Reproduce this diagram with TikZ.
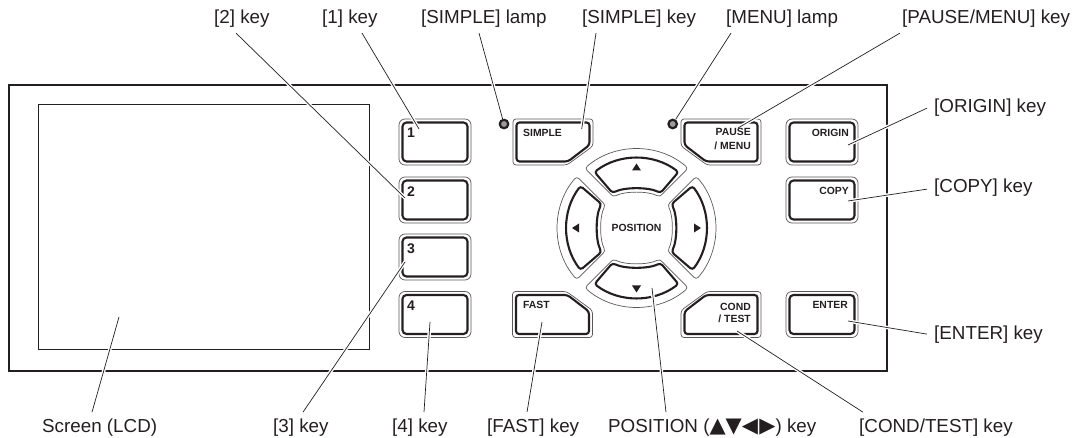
\documentclass[tikz,border=0pt]{standalone}
\usepackage{fontspec}
\setmainfont{Liberation Sans}
\newfontfamily\symfont{DejaVu Sans}
\usetikzlibrary{positioning, calc}
\definecolor{inkblack}{HTML}{231F20}
\tikzset{
  callout/.style = {font=\fontsize{18.8}{20}\selectfont, text=inkblack, inner sep=0pt, anchor=base west},
  keyhalo/.style = {rectangle, draw=inkblack!75, line width=0.7pt, rounded corners=6pt,
    minimum width=72pt, minimum height=46pt, inner sep=0pt},
  keyface/.style = {rectangle, draw=inkblack, line width=2.1pt, rounded corners=4pt,
    minimum width=65pt, minimum height=39pt, inner sep=0pt},
  keynum/.style  = {font=\fontsize{14}{14}\bfseries\selectfont, text=inkblack, inner sep=0pt},
  keytext/.style = {font=\fontsize{10.4}{14}\bfseries\selectfont, text=inkblack, inner sep=0pt, align=right},
  halo/.style    = {draw=inkblack!75, line width=0.7pt, rounded corners=3pt},
  face/.style    = {draw=inkblack, line width=2.1pt, rounded corners=3pt},
  leader/.style  = {draw=inkblack, line width=0.7pt, preaction={draw=white, line width=3.5pt}},
  lamp/.style    = {circle, draw=inkblack, fill=inkblack!45, line width=2.2pt, minimum size=8.5pt, inner sep=0pt},
}
\newcommand{\rectkey}[2]{%
  \node[keyhalo] (#1) at (#2) {};
  \node[keyface] (#1f) at (#2) {};}
\newcommand{\cutkey}[3]{%
  \begin{scope}[shift={(#1)}, xscale=#2, yscale=#3]
    \draw[halo] (-40,-23) -- (40,-23) -- (40,4) -- (14,23) -- (-40,23) -- cycle;
    \draw[face] (-36.5,-19.5) -- (36.5,-19.5) -- (36.5,3) -- (15,19.5) -- (-36.5,19.5) -- cycle;
  \end{scope}}
\newcommand{\padkey}[1]{%
  \begin{scope}[shift={(636.5,228)}, rotate=#1]
    \draw[halo] (-51.6,-59.8) .. controls (-21.9,-85.4) and (21.9,-85.4) .. (51.6,-59.8)
      -- (23,-31) .. controls (12,-37) and (-12,-37) .. (-23,-31) -- cycle;
    \draw[face] (-42,-56) .. controls (-17.1,-74.7) and (17.1,-74.7) .. (42,-56)
      -- (24,-35) .. controls (12,-41) and (-12,-41) .. (-24,-35) -- cycle;
    \fill[inkblack] (0,-64.5) -- (4.5,-57.5) -- (-4.5,-57.5) -- cycle;
  \end{scope}}

\begin{document}
\begin{tikzpicture}[x=1pt, y=-1pt]
  \useasboundingbox (0,0) rectangle (1074,438);

  % Panel and screen
  \node[draw=inkblack, line width=2.3pt, minimum width=878pt, minimum height=286pt, inner sep=0pt] (panel) at (448,228) {};
  \node[draw=inkblack, line width=1pt, minimum width=330.5pt, minimum height=245pt, inner sep=0pt] (lcd) at (203.75,227.5) {};

  % Number keys
  \rectkey{kone}{435,142}
  \rectkey{ktwo}{435,200}
  \rectkey{kthree}{435,257}
  \rectkey{kfour}{435,314.5}

  % Right keys
  \rectkey{korigin}{822,142}
  \rectkey{kcopy}{822,200}
  \rectkey{kenter}{822,314.5}

  % Keys with a cut corner
  \cutkey{553,142}{1}{1}
  \cutkey{721,142}{-1}{1}
  \cutkey{552.5,314.5}{1}{-1}
  \cutkey{721,314.5}{-1}{-1}

  % Position pad
  \padkey{0}
  \padkey{90}
  \padkey{180}
  \padkey{270}

  % Callout labels
  \node[callout] (t2) at (214,24) {[2] key};
  \node[callout] (t1) at (322,24) {[1] key};
  \node[callout] (tsl) at (421,24) {[SIMPLE] lamp};
  \node[callout] (tsk) at (582,24) {[SIMPLE] key};
  \node[callout] (tml) at (726,24) {[MENU] lamp};
  \node[callout] (tpm) at (902,24) {[PAUSE/MENU] key};
  \node[callout] (tor) at (934,113) {[ORIGIN] key};
  \node[callout] (tco) at (934,193) {[COPY] key};
  \node[callout] (ten) at (934,340) {[ENTER] key};
  \node[callout] (tlcd) at (42,432) {Screen (LCD)};
  \node[callout] (t3) at (273,432) {[3] key};
  \node[callout] (t4) at (392,432) {[4] key};
  \node[callout] (tfa) at (487,432) {[FAST] key};
  \node[callout] (tpo) at (608,432) {POSITION (\smash{\fontsize{21}{20}\symfont▲▼◀\kern1.5pt▶}) key};
  \node[callout] (tct) at (859,432) {[COND/TEST] key};

  % Free ends of the leaders
  \coordinate (p2) at (405,198);
  \coordinate (p1) at (419,129);
  \coordinate (p3) at (405,262);
  \coordinate (p4) at (430,322);
  \coordinate (psk) at (581.7,129);
  \coordinate (ppm) at (738,128);
  \coordinate (por) at (848,145);
  \coordinate (pco) at (848,201);
  \coordinate (pen) at (848,321);
  \coordinate (plcd) at (119,317);
  \coordinate (pfa) at (542,322);
  \coordinate (ppo) at (652,288);
  \coordinate (pct) at (737,331);

  % Lamps
  \node[lamp] (lsimple) at (504,124) {};
  \node[lamp] (lmenu) at (672.7,124) {};

  % Leaders
  \draw[leader] ($(t2.south west)+(22,5)$) -- (p2);
  \draw[leader] ($(t1.south west)+(40,5)$) -- (p1);
  \draw[leader] ($(tsl.south west)+(58,5)$) -- (lsimple);
  \draw[leader] ($(tsk.south west)+(14,5)$) -- (psk);
  \draw[leader] ($(tml.south west)+(5,5)$) -- (lmenu);
  \draw[leader] ($(tpm.south west)+(-2,5)$) -- (ppm);
  \draw[leader] ($(tor.west)+(-7,0)$) -- (por);
  \draw[leader] ($(tco.west)+(-7,1)$) -- (pco);
  \draw[leader] ($(ten.west)+(-7,-1)$) -- (pen);
  \draw[leader] ($(tlcd.north west)+(50,-6)$) -- (plcd);
  \draw[leader] ($(t3.north west)+(30,-6)$) -- (p3);
  \draw[leader] ($(t4.north west)+(32,-6)$) -- (p4);
  \draw[leader] ($(tfa.north west)+(40,-6)$) -- (pfa);
  \draw[leader] ($(tpo.north west)+(58,-6)$) -- (ppo);
  \draw[leader] ($(tct.north west)+(4,-6)$) -- (pct);

  % Key captions
  \node[keynum] (n1) at (411,133) {1};
  \node[keynum] (n2) at (411,192) {2};
  \node[keynum] (n3) at (411,248.5) {3};
  \node[keynum] (n4) at (411,306) {4};
  \node[keytext, anchor=west] (csimple) at (523,133) {SIMPLE};
  \node[keytext, anchor=north east] (cpause) at (751,128.5) {PAUSE\\/ MENU};
  \node[keytext, anchor=east] (corigin) at (849,133) {ORIGIN};
  \node[keytext, anchor=east] (ccopy) at (849,191) {COPY};
  \node[keytext, anchor=east] (center) at (848,305) {ENTER};
  \node[keytext, anchor=north east] (ccond) at (751,303) {COND\\[-2pt]/ TEST};
  \node[keytext, anchor=west] (cfast) at (523,305) {FAST};
  \node[keytext] (cpos) at (636.5,228) {POSITION};

\end{tikzpicture}
\end{document}
